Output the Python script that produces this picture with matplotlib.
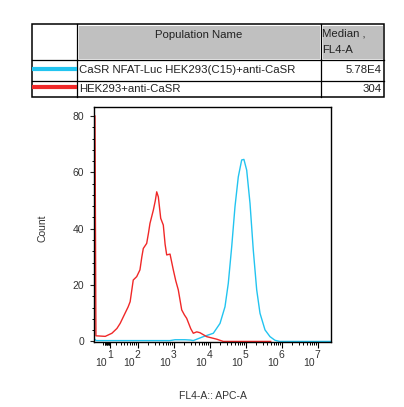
import numpy as np
import matplotlib.pyplot as plt
from matplotlib.patches import Rectangle
from matplotlib.ticker import FixedLocator, NullFormatter

plt.rcParams['font.family'] = ['Liberation Sans', 'DejaVu Sans']

# populations shown in the legend table
pop_names = ["CaSR NFAT-Luc HEK293(C15)+anti-CaSR", "HEK293+anti-CaSR"]
pop_medians = ["5.78E4", "304"]
pop_colors = ["#22c4f0", "#f02828"]

# histogram traces (FL4-A intensity, count)
cyan_x = [-13.5, -10, 795, 1100, 2075, 2860, 3530, 6700, 12700, 19500, 26800,
          33100, 41200, 50800, 62800, 78000, 90000, 107500, 133000, 164000,
          204000, 252000, 347000, 478000, 658000, 900000, 2.3e7]
cyan_y = [1.0, 0.3, 0.3, 0.6, 0.6, 0.5, 0.3, 1.7, 2.9, 6.4, 12.3,
          20.6, 33.6, 47.8, 58.4, 64.4, 64.6, 60.8, 49.0, 32.4,
          18.3, 10.0, 4.1, 1.7, 0.4, 0.0, 0.0]

red_x = [-12, -10.5, 3, 13, 22, 29, 42, 52, 60, 74, 93, 115, 130, 143, 178,
         200, 220, 273, 310, 339, 376, 438, 517, 580, 643, 795, 981, 1150,
         1350, 1680, 2000, 2310, 3000, 3530, 4400, 5400, 8300, 15800, 24000,
         1e5, 5e5]
red_y = [80, 2.0, 1.8, 2.9, 4.6, 6.4, 10.0, 12.2, 14.1, 21.8, 23.0, 25.4, 30.0,
         33.0, 34.8, 38.5, 41.9, 46.6, 50.0, 53.1, 51.3, 43.7, 41.3, 34.5, 30.7,
         31.0, 25.4, 21.5, 18.3, 11.2, 9.4, 8.2, 4.5, 2.9, 3.4, 3.1, 1.7, 0.8,
         0.0, 0.0, 0.0]

decades = [1, 2, 3, 4, 5, 6, 7]
y_major = [0, 20, 40, 60, 80]

fig = plt.figure(figsize=(4.04, 4.07), dpi=100)
W, H = 404.0, 407.0

# ---- histogram axes ----
ax = fig.add_axes([94 / W, 1 - 342 / H, (331 - 94) / W, (342 - 107) / H])
ax.set_xscale('asinh', linear_width=22)
ax.plot(cyan_x, cyan_y, color=pop_colors[0], lw=1.0)
ax.plot(red_x, red_y, color=pop_colors[1], lw=1.0)
ax.set_xlim(-13.6, 2.37e7)
ax.set_ylim(-0.2, 83.2)

majors = [10.0 ** k for k in decades]
minors = [0] + [m * 10.0 ** k for k in range(0, 7) for m in range(2, 10)]
ax.xaxis.set_major_locator(FixedLocator(majors))
ax.xaxis.set_minor_locator(FixedLocator(minors))
ax.xaxis.set_major_formatter(NullFormatter())
ax.xaxis.set_minor_formatter(NullFormatter())
ax.tick_params(axis='x', which='major', direction='out', length=4, width=0.8)
ax.tick_params(axis='x', which='minor', direction='out', length=2.2, width=0.7)

ax.set_yticks(y_major)
ax.set_yticks(np.arange(0, 84, 4), minor=True)
ax.tick_params(axis='y', which='major', direction='out', length=3, width=0.8,
               labelsize=7.5, pad=4, colors='#222222', labelcolor='#333333')
ax.tick_params(axis='y', which='minor', direction='out', length=1.8, width=0.7)
for sp in ax.spines.values():
    sp.set_linewidth(1.0)

# biexponential style labels: big "10" with raised exponent
for k, v in zip(decades, majors):
    ax.annotate("10", xy=(v, 0), xycoords=('data', 'axes fraction'),
                xytext=(-3, -26), textcoords='offset pixels',
                ha='right', va='bottom', fontsize=7.5, color='#333333')
    ax.annotate(str(k), xy=(v, 0), xycoords=('data', 'axes fraction'),
                xytext=(0, -18), textcoords='offset pixels',
                ha='center', va='bottom', fontsize=7.5, color='#333333')

fig.text(213 / W, 1 - 396 / H, "FL4-A:: APC-A", ha='center', va='center',
         fontsize=7.5, color='#333333')
fig.text(42 / W, 1 - 228 / H, "Count", ha='center', va='center',
         rotation=90, fontsize=7.5, color='#333333')

# ---- legend table (pixel coordinates) ----
tb = fig.add_axes([0, 0, 1, 1])
tb.set_xlim(0, W)
tb.set_ylim(H, 0)
tb.axis('off')

left, right, top, bottom = 31.7, 384.3, 24.3, 96.7
c1, c2 = 77.3, 321.0
r1, r2 = 60.0, 80.7
tb.add_patch(Rectangle((c1 + 1.5, top + 1.5), c2 - c1 - 3, r1 - top - 3,
                       fc='#c0c0c0', ec='none'))
tb.add_patch(Rectangle((c2 + 1.5, top + 1.5), right - c2 - 3, r1 - top - 3,
                       fc='#c0c0c0', ec='none'))
tb.add_patch(Rectangle((left, top), right - left, bottom - top,
                       fc='none', ec='black', lw=1.1))
tb.plot([c1, c1], [top, bottom], color='black', lw=0.9)
tb.plot([c2, c2], [top, bottom], color='black', lw=0.9)
tb.plot([left, right], [r1, r1], color='black', lw=0.9)
tb.plot([left, right], [r2, r2], color='black', lw=0.9)

tb.text((c1 + c2) / 2, 35, "Population Name", ha='center', va='center',
        fontsize=8.2, color='#222222')
tb.text(c2 + 1.5, 34, "Median ,", ha='left', va='center', fontsize=8.2, color='#222222')
tb.text(c2 + 1.5, 50, "FL4-A", ha='left', va='center', fontsize=8.2, color='#222222')

row_y = [70.4, 88.7]
for name, med, col, yy in zip(pop_names, pop_medians, pop_colors, row_y):
    tb.plot([left, c1], [yy - 1.5, yy - 1.5], color=col, lw=3.0,
            solid_capstyle='butt')
    tb.text(c1 + 1.5, yy, name, ha='left', va='center', fontsize=8.2, color='#222222')
    tb.text(right - 2.5, yy, med, ha='right', va='center', fontsize=8.2, color='#222222')

fig.savefig("out.png", dpi=100)
